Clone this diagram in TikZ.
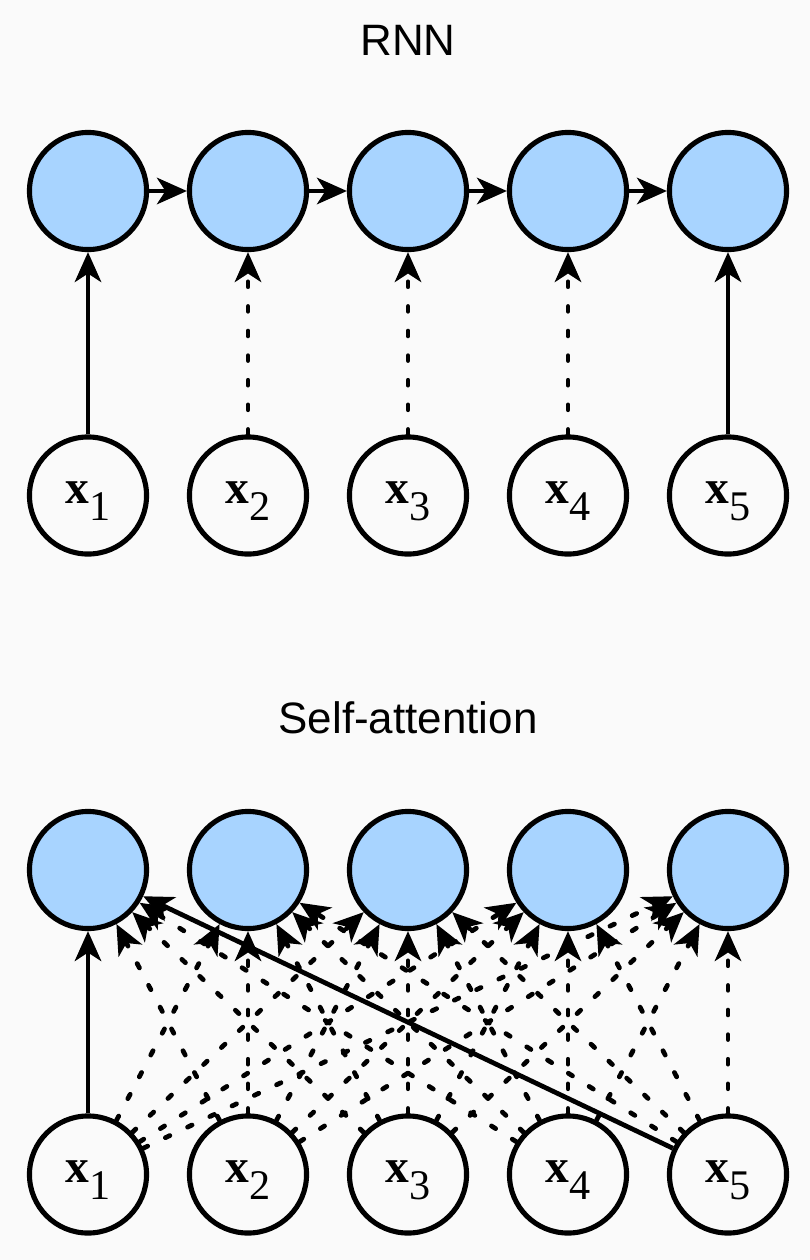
\documentclass[tikz,border=0pt]{standalone}
\usepackage{fontspec}
\setmainfont{Liberation Sans}
\newfontfamily\serifx{Liberation Serif}
\usepackage{tikz}
\usetikzlibrary{arrows.meta,positioning}
\usepackage{xcolor}

\definecolor{hidblue}{RGB}{168,212,255}
\definecolor{bggray}{RGB}{250,250,250}

\newcommand{\xlab}[1]{{\serifx\fontsize{13.5}{15}\selectfont\textbf{x}\raisebox{-4.6pt}{\fontsize{12}{14}\selectfont #1}}}

\tikzset{
    hid/.style={circle, draw, line width=1.45pt, fill=hidblue, minimum size=1.17cm, inner sep=0pt},
    inp/.style={circle, draw, line width=1.45pt, fill=bggray, minimum size=1.17cm, inner sep=0pt,
        text height=6.4pt, text depth=1.6pt},
    link/.style={line width=1.35pt, -{Stealth[length=8.5pt, width=7.5pt, inset=2.4pt]}},
    dlink/.style={link, dash pattern=on 1.4pt off 5.6pt, line cap=round},
    heading/.style={anchor=base, font=\fontsize{12.5}{15}\selectfont}
}

\begin{document}
\begin{tikzpicture}[x=0.01cm, y=-0.01cm]
    \fill[bggray] (0,0) rectangle (810,1260);

    % RNN
    \node[heading] (rnntitle) at (408,55) {RNN};
    \foreach \i/\xx in {1/88, 2/248, 3/408, 4/568, 5/728} {
        \node[hid] (rh\i) at (\xx,191) {};
        \node[inp] (rx\i) at (\xx,495.5) {\xlab{\i}};
    }
    \foreach \i/\j in {1/2, 2/3, 3/4, 4/5}
        \draw[link] (rh\i) -- (rh\j);
    \draw[link] (rx1) -- (rh1);
    \foreach \i in {2,3,4}
        \draw[dlink] (rx\i) -- (rh\i);
    \draw[link] (rx5) -- (rh5);

    % Self-attention
    \node[heading] (sattitle) at (408,733) {Self-attention};
    \foreach \i/\xx in {1/88, 2/248, 3/408, 4/568, 5/728} {
        \node[hid] (ah\i) at (\xx,870) {};
        \node[inp] (ax\i) at (\xx,1174.5) {\xlab{\i}};
    }
    \foreach \j in {1,...,5}
        \foreach \i in {1,...,5} {
            \pgfmathtruncatemacro{\solid}{(\i==1)&&((\j==1)||(\j==5))}
            \ifnum\solid=0
                \draw[dlink] (ax\j) -- (ah\i);
            \fi
        }
    \draw[link] (ax1) -- (ah1);
    \draw[link] (ax5) -- (ah1);
\end{tikzpicture}
\end{document}
